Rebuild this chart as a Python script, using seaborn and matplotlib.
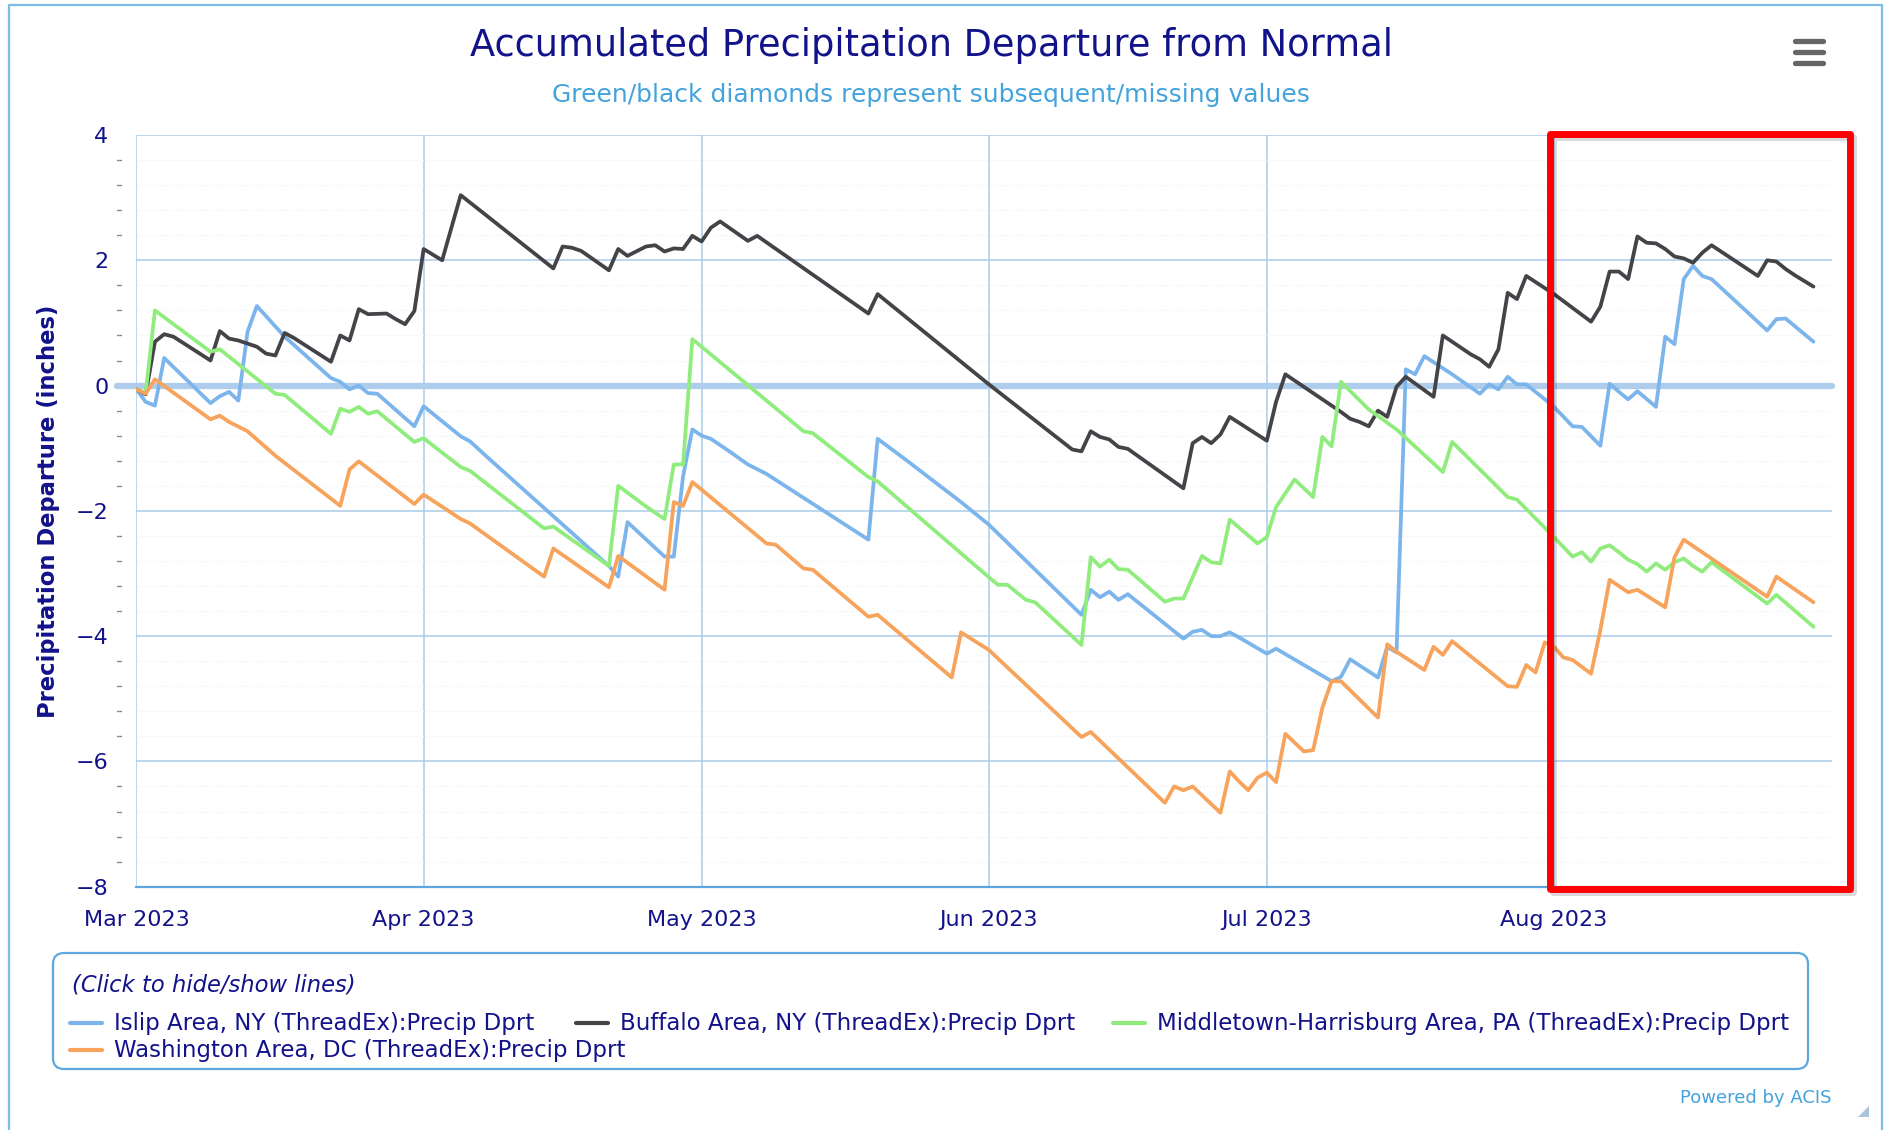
import pandas as pd
import numpy as np
import matplotlib.pyplot as plt
import matplotlib.dates as mdates
from matplotlib.ticker import MultipleLocator
from matplotlib.patches import FancyBboxPatch, Rectangle, Polygon
import seaborn as sns

# --- data (vertices of each line, 2023) ---
islip_dates = ["03-01", "03-02", "03-03", "03-04", "03-09", "03-10", "03-11", "03-12", "03-13", "03-14",
               "03-17", "03-22", "03-23", "03-24", "03-25", "03-26", "03-27", "03-31", "04-01", "04-05",
               "04-06", "04-08", "04-21", "04-22", "04-23", "04-27", "04-28", "04-29", "04-30", "05-01",
               "05-02", "05-04", "05-06", "05-08", "05-19", "05-20", "05-23", "05-29", "06-01", "06-11",
               "06-12", "06-13", "06-14", "06-15", "06-16", "06-22", "06-23", "06-24", "06-25", "06-26",
               "06-27", "06-28", "07-01", "07-02", "07-08", "07-09", "07-10", "07-13", "07-14", "07-15",
               "07-16", "07-17", "07-18", "07-21", "07-24", "07-25", "07-26", "07-27", "07-28", "07-29",
               "08-01", "08-03", "08-04", "08-06", "08-07", "08-08", "08-09", "08-10", "08-12", "08-13",
               "08-14", "08-15", "08-16", "08-17", "08-18", "08-24", "08-25", "08-26", "08-29"]
islip_vals = [-0.06, -0.26, -0.32, 0.44, -0.28, -0.17, -0.10, -0.24, 0.86, 1.27,
              0.78, 0.12, 0.06, -0.06, 0.00, -0.12, -0.13, -0.65, -0.33, -0.81,
              -0.89, -1.16, -2.88, -3.05, -2.18, -2.73, -2.73, -1.45, -0.70, -0.80,
              -0.85, -1.05, -1.26, -1.41, -2.46, -0.85, -1.18, -1.86, -2.22, -3.66,
              -3.26, -3.38, -3.29, -3.42, -3.33, -4.04, -3.93, -3.90, -4.00, -4.00,
              -3.94, -4.02, -4.28, -4.20, -4.72, -4.65, -4.37, -4.66, -4.17, -4.26,
              0.26, 0.18, 0.47, 0.18, -0.13, 0.02, -0.06, 0.14, 0.02, 0.02,
              -0.34, -0.65, -0.66, -0.96, 0.03, -0.10, -0.22, -0.09, -0.34, 0.78,
              0.66, 1.70, 1.91, 1.75, 1.70, 0.88, 1.06, 1.07, 0.70]

buffalo_dates = ["03-01", "03-02", "03-03", "03-04", "03-05", "03-09", "03-10", "03-11", "03-12", "03-14",
                 "03-15", "03-16", "03-17", "03-18", "03-22", "03-23", "03-24", "03-25", "03-26", "03-28",
                 "03-29", "03-30", "03-31", "04-01", "04-03", "04-05", "04-15", "04-16", "04-17", "04-18",
                 "04-21", "04-22", "04-23", "04-25", "04-26", "04-27", "04-28", "04-29", "04-30", "05-01",
                 "05-02", "05-03", "05-06", "05-07", "05-19", "05-20", "06-01", "06-10", "06-11", "06-12",
                 "06-13", "06-14", "06-15", "06-16", "06-22", "06-23", "06-24", "06-25", "06-26", "06-27",
                 "07-01", "07-02", "07-03", "07-09", "07-10", "07-11", "07-12", "07-13", "07-14", "07-15",
                 "07-16", "07-19", "07-20", "07-23", "07-24", "07-25", "07-26", "07-27", "07-28", "07-29",
                 "08-01", "08-05", "08-06", "08-07", "08-08", "08-09", "08-10", "08-11", "08-12", "08-13",
                 "08-14", "08-15", "08-16", "08-17", "08-18", "08-23", "08-24", "08-25", "08-26", "08-27",
                 "08-29"]
buffalo_vals = [-0.06, -0.14, 0.70, 0.82, 0.78, 0.40, 0.87, 0.75, 0.72, 0.62,
                0.51, 0.48, 0.84, 0.76, 0.38, 0.80, 0.72, 1.22, 1.14, 1.15,
                1.06, 0.98, 1.19, 2.18, 2.00, 3.04, 1.87, 2.22, 2.20, 2.15,
                1.84, 2.18, 2.07, 2.22, 2.24, 2.14, 2.19, 2.18, 2.39, 2.30,
                2.52, 2.62, 2.31, 2.39, 1.15, 1.46, 0.02, -1.02, -1.05, -0.73,
                -0.82, -0.86, -0.98, -1.01, -1.64, -0.92, -0.82, -0.92, -0.78, -0.50,
                -0.88, -0.26, 0.18, -0.42, -0.53, -0.58, -0.65, -0.40, -0.50, -0.02,
                0.14, -0.18, 0.80, 0.50, 0.42, 0.30, 0.58, 1.48, 1.38, 1.75,
                1.46, 1.02, 1.26, 1.82, 1.82, 1.70, 2.38, 2.28, 2.27, 2.18,
                2.06, 2.03, 1.96, 2.12, 2.24, 1.75, 2.00, 1.98, 1.86, 1.76,
                1.58]

middletown_dates = ["03-01", "03-02", "03-03", "03-09", "03-10", "03-16", "03-17", "03-22", "03-23", "03-24",
                    "03-25", "03-26", "03-27", "03-31", "04-01", "04-05", "04-06", "04-14", "04-15", "04-21",
                    "04-22", "04-25", "04-27", "04-28", "04-29", "04-30", "05-01", "05-12", "05-13", "05-19",
                    "05-20", "06-01", "06-02", "06-03", "06-05", "06-06", "06-11", "06-12", "06-13", "06-14",
                    "06-15", "06-16", "06-20", "06-21", "06-22", "06-24", "06-25", "06-26", "06-27", "06-30",
                    "07-01", "07-02", "07-04", "07-06", "07-07", "07-08", "07-09", "07-12", "07-15", "07-20",
                    "07-21", "07-27", "07-28", "08-01", "08-03", "08-04", "08-05", "08-06", "08-07", "08-08",
                    "08-09", "08-10", "08-11", "08-12", "08-13", "08-14", "08-15", "08-16", "08-17", "08-18",
                    "08-24", "08-25", "08-29"]
middletown_vals = [-0.06, -0.12, 1.20, 0.54, 0.58, -0.13, -0.15, -0.77, -0.37, -0.42,
                   -0.34, -0.45, -0.41, -0.90, -0.84, -1.30, -1.36, -2.28, -2.25, -2.88,
                   -1.60, -1.93, -2.13, -1.26, -1.26, 0.74, 0.62, -0.73, -0.76, -1.46,
                   -1.53, -3.06, -3.18, -3.18, -3.42, -3.46, -4.14, -2.74, -2.89, -2.78,
                   -2.93, -2.94, -3.45, -3.40, -3.40, -2.72, -2.82, -2.84, -2.14, -2.52,
                   -2.42, -1.94, -1.50, -1.78, -0.82, -0.97, 0.06, -0.38, -0.70, -1.38,
                   -0.90, -1.78, -1.82, -2.42, -2.73, -2.66, -2.81, -2.60, -2.55, -2.66,
                   -2.78, -2.85, -2.97, -2.84, -2.94, -2.82, -2.76, -2.88, -2.97, -2.82,
                   -3.48, -3.34, -3.85]

washington_dates = ["03-01", "03-02", "03-03", "03-09", "03-10", "03-11", "03-13", "03-16", "03-23", "03-24",
                    "03-25", "03-31", "04-01", "04-05", "04-06", "04-14", "04-15", "04-21", "04-22", "04-27",
                    "04-28", "04-29", "04-30", "05-08", "05-09", "05-12", "05-13", "05-19", "05-20", "05-28",
                    "05-29", "06-01", "06-11", "06-12", "06-20", "06-21", "06-22", "06-23", "06-26", "06-27",
                    "06-28", "06-29", "06-30", "07-01", "07-02", "07-03", "07-05", "07-06", "07-07", "07-08",
                    "07-09", "07-13", "07-14", "07-15", "07-18", "07-19", "07-20", "07-21", "07-27", "07-28",
                    "07-29", "07-30", "07-31", "08-01", "08-02", "08-03", "08-05", "08-06", "08-07", "08-09",
                    "08-10", "08-13", "08-14", "08-15", "08-24", "08-25", "08-29"]
washington_vals = [-0.06, -0.13, 0.10, -0.54, -0.48, -0.58, -0.73, -1.12, -1.92, -1.34,
                   -1.21, -1.89, -1.74, -2.13, -2.20, -3.05, -2.60, -3.22, -2.72, -3.26,
                   -1.86, -1.92, -1.54, -2.52, -2.54, -2.92, -2.94, -3.69, -3.66, -4.66,
                   -3.94, -4.22, -5.61, -5.53, -6.66, -6.40, -6.46, -6.40, -6.82, -6.16,
                   -6.32, -6.46, -6.26, -6.18, -6.33, -5.56, -5.84, -5.82, -5.14, -4.72,
                   -4.72, -5.30, -4.13, -4.25, -4.54, -4.17, -4.30, -4.08, -4.80, -4.81,
                   -4.46, -4.58, -4.10, -4.17, -4.34, -4.38, -4.60, -3.90, -3.10, -3.30,
                   -3.26, -3.54, -2.74, -2.46, -3.37, -3.05, -3.46]

series_names = ["Islip Area, NY (ThreadEx):Precip Dprt",
                "Buffalo Area, NY (ThreadEx):Precip Dprt",
                "Middletown-Harrisburg Area, PA (ThreadEx):Precip Dprt",
                "Washington Area, DC (ThreadEx):Precip Dprt"]
series_colors = ["#7cb5ec", "#434348", "#90ed7d", "#f7a35c"]

frames = []
for name, d, v in zip(series_names,
                      [islip_dates, buffalo_dates, middletown_dates, washington_dates],
                      [islip_vals, buffalo_vals, middletown_vals, washington_vals]):
    frames.append(pd.DataFrame({"date": pd.to_datetime(["2023-" + s for s in d]),
                                "value": v, "station": name}))
df = pd.concat(frames, ignore_index=True)

# --- style ---
sns.set_style("white")
plt.rcParams['font.family'] = ['DejaVu Sans']

W, H = 1889, 1130
navy = "#12128a"
light = "#45a3dc"
grid_c = "#a9cbe9"

fig = plt.figure(figsize=(W / 100, H / 100), dpi=100)
ax_l, ax_r, ax_t, ax_b = 136.4, 1832.0, 135.0, 886.7
ax = fig.add_axes([ax_l / W, 1 - ax_b / H, (ax_r - ax_l) / W, (ax_b - ax_t) / H])

sns.lineplot(data=df, x="date", y="value", hue="station", hue_order=series_names,
             palette=dict(zip(series_names, series_colors)), estimator=None,
             linewidth=2.7, legend=False, ax=ax, zorder=3)

ax.set_xlim(pd.Timestamp("2023-03-01"), pd.Timestamp("2023-08-31"))
ax.set_ylim(-8, 4)
ax.set_xlabel("")
ax.set_axisbelow(True)

ax.xaxis.set_major_locator(mdates.MonthLocator())
ax.xaxis.set_major_formatter(mdates.DateFormatter("%b %Y"))
ax.yaxis.set_major_locator(MultipleLocator(2))
ax.yaxis.set_minor_locator(MultipleLocator(0.4))

ax.grid(which="major", color=grid_c, linewidth=1.1)
ax.grid(which="minor", axis="y", color="#e9eef4", linewidth=0.8, linestyle=(0, (1, 2)))

for s in ["top", "right", "left"]:
    ax.spines[s].set_visible(False)
ax.spines["bottom"].set_color("#5ea4dd")
ax.spines["bottom"].set_linewidth(1.6)

ax.tick_params(axis="x", which="major", length=12.5, width=1.1, color=grid_c, pad=4,
               labelsize=16, labelcolor=navy)
ax.tick_params(axis="y", which="major", length=13.7, width=1.1, color=grid_c, pad=6.5,
               labelsize=16, labelcolor=navy)
ax.tick_params(axis="y", which="minor", length=0)

# short grey minor dashes left of the axis
for y in ax.yaxis.get_minorticklocs():
    if -8 < y < 4:
        ax.plot([-0.0112, -0.0088], [y, y], transform=ax.get_yaxis_transform(),
                color="#8a8a8a", lw=1.0, clip_on=False, zorder=2)

# thick zero line
ax.axhline(0, xmin=-0.0112, xmax=1, color="#aecdec", lw=4.5, clip_on=False, zorder=1.5)

ax.set_ylabel("Precipitation Departure (inches)", fontsize=16.3, fontweight="bold", color=navy)
ax.yaxis.set_label_coords((60 - ax_l) / (ax_r - ax_l), 0.5)

# --- overlay in pixel coordinates for titles, legend, frame ---
ov = fig.add_axes([0, 0, 1, 1], facecolor="none")
ov.set_xlim(0, W)
ov.set_ylim(H, 0)
ov.axis("off")

# outer chart border
ov.plot([9, 9, 1882, 1882], [H + 5, 5, 5, H + 5], color="#7dbde8", lw=1.6, clip_on=False)

ov.text(931, 46, "Accumulated Precipitation Departure from Normal", ha="center", va="center",
        fontsize=26.5, color=navy, fontweight="medium")
ov.text(931, 95, "Green/black diamonds represent subsequent/missing values", ha="center",
        va="center", fontsize=18, color=light)

# menu icon
for yy in [41, 52, 63]:
    ov.plot([1795, 1823], [yy, yy], color="#666666", lw=3.8, solid_capstyle="round")

# legend box
ov.add_patch(FancyBboxPatch((53, 953), 1755, 116, boxstyle="round,pad=0,rounding_size=11",
                            fc="none", ec="#5ea8e0", lw=1.6))
ov.text(72, 992, "(Click to hide/show lines)", fontsize=16.3, style="italic", color=navy,
        va="baseline")
leg_pos = [(70, 1030), (576, 1030), (1113, 1030), (70, 1057)]
for (lx, ly), name, col in zip(leg_pos, series_names, series_colors):
    ov.plot([lx, lx + 32], [ly - 7, ly - 7], color=col, lw=3)
    ov.text(lx + 44, ly, name, fontsize=16.5, color=navy, va="baseline")

ov.text(1832, 1103, "Powered by ACIS", fontsize=13, color=light, ha="right", va="baseline")
ov.add_patch(Polygon([[1869, 1106], [1869, 1117], [1858, 1117]], closed=True,
                     fc="#a9c4dc", ec="none"))

# red highlight box
ov.add_patch(Rectangle((1552.5, 137), 300, 755, fill=False, ec="#000000", lw=5,
                       alpha=0.15, joinstyle="round"))
ov.add_patch(Rectangle((1550.3, 134), 300, 755, fill=False, ec="#ff0000", lw=5,
                       joinstyle="round"))

fig.savefig("out.png", dpi=100)
